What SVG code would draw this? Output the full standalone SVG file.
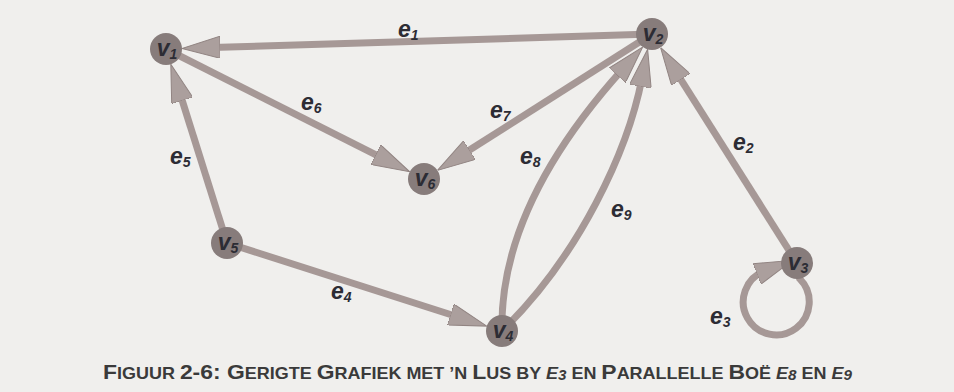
<svg xmlns="http://www.w3.org/2000/svg" width="954" height="392" viewBox="0 0 954 392">
  <style>
    .edge { fill: none; stroke: #a69896; stroke-width: 7; marker-end: url(#head); }
    .node circle { fill: #877c7b; }
    .nl { font-family: "Liberation Sans", Arial, sans-serif; font-weight: bold; font-style: italic; font-size: 23px; fill: #2c2c34; text-anchor: middle; }
    .el { font-family: "Liberation Sans", Arial, sans-serif; font-weight: bold; font-style: italic; font-size: 23px; fill: #2c2c34; }
    .sub { font-size: 14px; }
    .cap { font-family: "Liberation Sans", Arial, sans-serif; font-weight: bold; font-size: 16.5px; fill: #3a3a3a; }
    .big { font-size: 21px; }
    .it { font-style: italic; }
  </style>
  <defs>
    <marker id="head" viewBox="0 0 38 22" refX="8" refY="11" markerWidth="38" markerHeight="22" markerUnits="userSpaceOnUse" orient="auto">
      <path d="M0,0 L38,11 L0,22 z" fill="#ab9f9d" stroke="#918482" stroke-width="1"/>
    </marker>
  </defs>
  <rect width="954" height="392" fill="#f0efed"/>

  <g id="connectors">
    <!-- e1: v2 -> v1 -->
    <path id="e1" class="edge" d="M652,34 L211.98,47.58"/>
    <!-- e6: v1 -> v6 -->
    <path id="e6" class="edge" d="M166,49 L382.92,158.3"/>
    <!-- e7: v2 -> v6 -->
    <path id="e7" class="edge" d="M652,34 L462.81,154.31"/>
    <!-- e5: v5 -> v1 -->
    <path id="e5" class="edge" d="M227,243 L179.8,92.87"/>
    <!-- e4: v5 -> v4 -->
    <path id="e4" class="edge" d="M227,243 L458.18,316.98"/>
    <!-- e2: v3 -> v2 -->
    <path id="e2" class="edge" d="M797,263 L676.61,72.87"/>
    <!-- e8, e9: parallel arcs v4 -> v2 -->
    <path id="e8" class="edge" d="M502,331 C500,240 550,150 622.56,69.42"/>
    <path id="e9" class="edge" d="M502,331 C580,255 628,150 641.9,78.6"/>
    <!-- e3: loop on v3 -->
    <path id="e3" class="edge" d="M797,263 L799.6,278.6 A33,33 0 1 1 764.4,271.1"/>
  </g>

  <g id="v1" class="node"><circle cx="166" cy="49" r="16"/><text class="nl" x="167" y="56">v<tspan class="sub" dy="3">1</tspan></text></g>
  <g id="v2" class="node"><circle cx="652" cy="34" r="16"/><text class="nl" x="653" y="41">v<tspan class="sub" dy="3">2</tspan></text></g>
  <g id="v3" class="node"><circle cx="797" cy="263" r="16"/><text class="nl" x="798" y="270">v<tspan class="sub" dy="3">3</tspan></text></g>
  <g id="v4" class="node"><circle cx="502" cy="331" r="16"/><text class="nl" x="503" y="338">v<tspan class="sub" dy="3">4</tspan></text></g>
  <g id="v5" class="node"><circle cx="227" cy="243" r="16"/><text class="nl" x="228" y="250">v<tspan class="sub" dy="3">5</tspan></text></g>
  <g id="v6" class="node"><circle cx="424" cy="179" r="16"/><text class="nl" x="425" y="186">v<tspan class="sub" dy="3">6</tspan></text></g>

  <g id="edge-labels">
    <text class="el" x="398" y="37">e<tspan class="sub" dy="3">1</tspan></text>
    <text class="el" x="733" y="150">e<tspan class="sub" dy="3">2</tspan></text>
    <text class="el" x="710" y="324">e<tspan class="sub" dy="3">3</tspan></text>
    <text class="el" x="331" y="299">e<tspan class="sub" dy="3">4</tspan></text>
    <text class="el" x="170" y="164">e<tspan class="sub" dy="3">5</tspan></text>
    <text class="el" x="301" y="110">e<tspan class="sub" dy="3">6</tspan></text>
    <text class="el" x="490" y="118">e<tspan class="sub" dy="3">7</tspan></text>
    <text class="el" x="520" y="164">e<tspan class="sub" dy="3">8</tspan></text>
    <text class="el" x="611" y="217">e<tspan class="sub" dy="3">9</tspan></text>
  </g>

  <text id="caption" class="cap" x="103" y="379" textLength="749" lengthAdjust="spacingAndGlyphs"><tspan class="big">F</tspan>IGUUR <tspan class="big">2-6: G</tspan>ERIGTE <tspan class="big">G</tspan>RAFIEK MET ’N <tspan class="big">L</tspan>US BY <tspan class="it">E</tspan><tspan class="it" font-size="14" dy="1">3</tspan><tspan dy="-1"> EN </tspan><tspan class="big">P</tspan>ARALLELLE <tspan class="big">B</tspan>OË <tspan class="it">E</tspan><tspan class="it" font-size="14" dy="1">8</tspan><tspan dy="-1"> EN </tspan><tspan class="it">E</tspan><tspan class="it" font-size="14" dy="1">9</tspan></text>
</svg>
